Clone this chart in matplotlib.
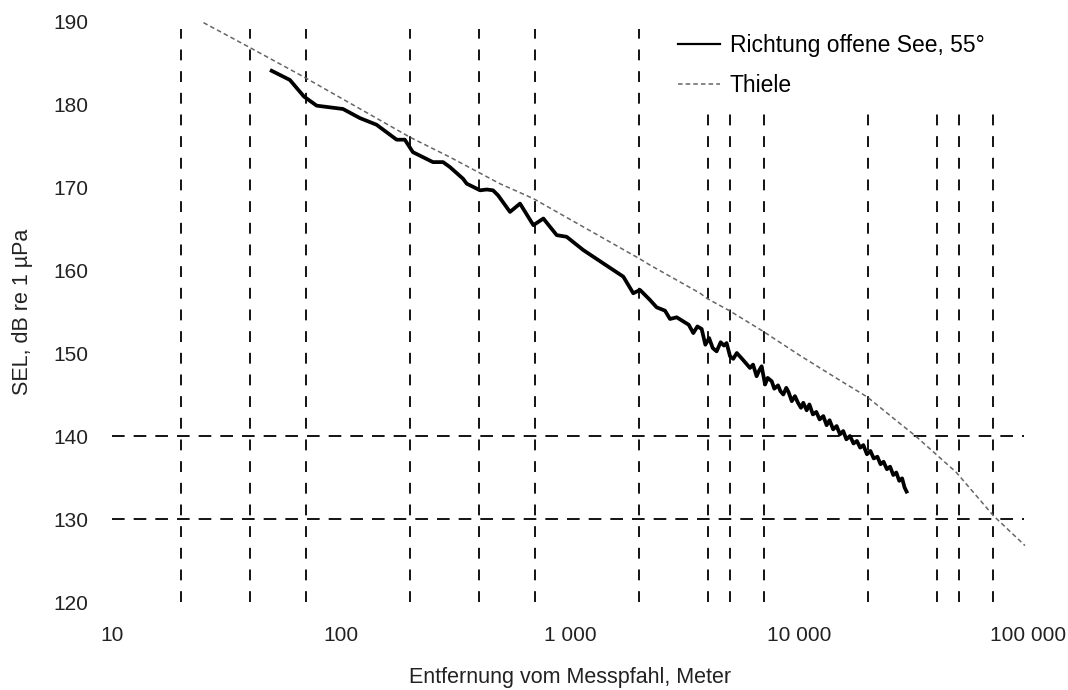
import numpy as np
import matplotlib
matplotlib.use("Agg")
import matplotlib.pyplot as plt

plt.rcParams['font.family'] = ['Liberation Sans', 'DejaVu Sans']

# measured SEL, direction open sea 55 deg
mess_x = [49.8, 59.8, 68.9, 78.3, 102, 121, 143, 175, 190, 206, 252, 279, 299,
          341, 354, 405, 433, 461, 485, 547, 605, 692, 765, 875, 967, 1143,
          1397, 1709, 1889, 2021, 2233, 2390, 2600, 2733, 2924, 3127,
          3300, 3455, 3600, 3757, 3900, 4050, 4200, 4368, 4550, 4700, 4830,
          5000, 5163, 5350, 5600, 5850, 6108, 6300, 6530, 6700, 6869, 7110,
          7300, 7600, 7800, 8100, 8300, 8540, 8800, 9000, 9300, 9600, 9900,
          10200, 10440, 10800, 11100, 11500, 11900, 12300, 12770, 13200,
          13600, 14100, 14600, 15100, 15600, 16100, 16700, 17300, 17900,
          18500, 19100, 19800, 20500, 21200, 22000, 22700, 23400, 24200,
          25000, 25800, 26600, 27400, 28200, 28900, 29500]
mess_y = [184.0, 182.9, 180.9, 179.8, 179.4, 178.3, 177.5, 175.7, 175.7, 174.2,
          173.0, 173.0, 172.4, 171.0, 170.4, 169.6, 169.7, 169.6, 169.0, 167.0,
          168.0, 165.4, 166.2, 164.2, 164.0, 162.4, 160.8, 159.2, 157.2, 157.6,
          156.4, 155.5, 155.1, 154.1, 154.3, 153.8,
          153.4, 152.4, 153.2, 152.9, 151.0, 151.8, 150.6, 150.2, 151.3, 150.9,
          151.2, 149.6, 149.3, 150.0, 149.4, 148.8, 148.2, 148.6, 147.2, 147.9,
          148.4, 146.2, 147.0, 146.6, 145.7, 146.1, 145.4, 145.0, 145.8, 145.3,
          144.2, 144.8, 144.0, 143.4, 144.0, 143.1, 143.8, 142.6, 142.9, 142.0,
          142.4, 141.3, 141.9, 140.8, 141.2, 140.2, 140.6, 139.6, 140.0, 139.1,
          139.4, 138.6, 138.9, 137.8, 138.2, 137.3, 137.5, 136.6, 136.9, 136.0,
          136.3, 135.3, 135.6, 134.6, 134.9, 133.8, 133.3]

# Thiele model
thiele_x = [25.1, 40, 68.4, 200, 299, 494, 692, 2000, 2233, 3700, 3980, 4966,
            6890, 10090, 15100, 19870, 27600, 32100, 48700, 70600, 97000]
thiele_y = [189.8, 186.8, 183.3, 176.0, 173.6, 170.4, 168.6, 161.4, 160.6,
            157.2, 156.55, 155.1, 152.7, 149.7, 146.7, 144.7, 141.5, 140.06,
            135.6, 130.4, 126.8]

vgrid = [20, 40, 70, 200, 400, 700, 2000, 4000, 5000, 7000, 20000, 40000,
         50000, 70000]
hgrid = [130, 140]

xticks = [10, 100, 1000, 10000, 100000]
xticklabels = ['10', '100', '1 000', '10 000', '100 000']
yticks = [120, 130, 140, 150, 160, 170, 180, 190]

fig = plt.figure(figsize=(10.68, 6.9), dpi=100)
ax = fig.add_axes([112/1068, 1-602/690, (1028-112)/1068, (602-21)/690])
ax.set_xscale('log')
ax.set_xlim(10, 100000)
ax.set_ylim(120, 190)

ax.vlines(vgrid, 120, 189, colors='black', linewidth=1.3,
          linestyles=(0, (6, 6)), zorder=1)
ax.hlines(hgrid, 10, 96000, colors='black', linewidth=1.3,
          linestyles=(0, (7, 5)), zorder=1)

ax.plot(mess_x, mess_y, color='black', linewidth=2.7, zorder=3,
        label='Richtung offene See, 55°')
ax.plot(thiele_x, thiele_y, color='#666666', linewidth=1.1,
        linestyle=(0, (3, 2)), zorder=2, label='Thiele')

for s in ax.spines.values():
    s.set_visible(False)
ax.set_xticks(xticks)
ax.set_xticklabels(xticklabels)
ax.xaxis.set_minor_locator(matplotlib.ticker.NullLocator())
ax.set_yticks(yticks)
ax.tick_params(length=0, labelsize=15, colors='#222222')
ax.tick_params(axis='y', pad=17)
ax.tick_params(axis='x', pad=17)

ax.set_xlabel('Entfernung vom Messpfahl, Meter', fontsize=15.5,
              color='#222222', labelpad=16)
ax.set_ylabel('SEL, dB re 1 µPa', fontsize=15.5, color='#222222',
              labelpad=15)

leg = ax.legend(loc='upper left', bbox_to_anchor=(0.6103, 0.990),
                fontsize=16.5, frameon=True, facecolor='white',
                edgecolor='none', framealpha=1, handlelength=1.83,
                handletextpad=0.44, labelspacing=0.76, borderpad=0.3,
                borderaxespad=0)
leg.get_frame().set_boxstyle('square', pad=0.25)
leg.get_lines()[0].set_linewidth(1.6)
leg.set_zorder(5)

fig.savefig('out.png', dpi=100)
